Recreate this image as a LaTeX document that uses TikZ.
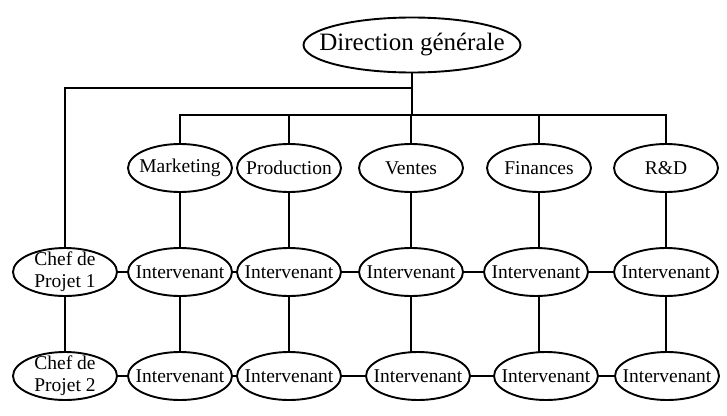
\documentclass[tikz,border=0pt]{standalone}
\usepackage{fontspec}
\setmainfont{Liberation Serif}
\usetikzlibrary{shapes.geometric}
\pgfdeclarelayer{bg}
\pgfsetlayers{bg,main}
\tikzset{
  box/.style={ellipse, draw, line width=1.9pt, fill=white, inner sep=-10pt,
    minimum width=104pt, minimum height=48pt, align=center,
    font=\fontsize{19.5}{22}\selectfont},
  link/.style={line width=1.9pt}
}
\begin{document}
\begin{tikzpicture}[x=1pt,y=-1pt]
\useasboundingbox (0,0) rectangle (727,415);
\node [box, inner sep=-20pt, minimum width=217pt, minimum height=55pt, font=\fontsize{25}{28}\selectfont] (dg) at (412,45) {Direction générale};

\node [box] (mkt) at (180,168) {Marketing};
\node [box] (prod) at (289,168) {Production};
\node [box] (vnt) at (411,168) {Ventes};
\node [box] (fin) at (539,168) {Finances};
\node [box] (rd) at (666,168) {R\&D};

\node [box] (chef1) at (65,272) {Chef de\\Projet 1};
\node [box] (chef2) at (65,376) {Chef de\\Projet 2};
\foreach \n/\x in {1/180,2/289,3/411,4/536,5/666}
  \node [box] (i1\n) at (\x,272) {Intervenant};
\foreach \n/\x in {1/180,2/289,3/418,4/546,5/667}
  \node [box] (i2\n) at (\x,376) {Intervenant};

\coordinate (split) at (412,88);
\coordinate (bus) at (412,115);

\begin{pgfonlayer}{bg}
\draw [link] (dg) -- (bus);
\draw [link] (split) -| (chef1) -- (chef2);
\draw [link] (mkt) |- (bus) -| (rd);
\foreach \d in {mkt,prod,vnt,fin,rd}
  \draw [link] (\d |- bus) -- (\d |- i21);
\draw [link] (chef1) -- (i11) -- (i12) -- (i13) -- (i14) -- (i15);
\draw [link] (chef2) -- (i21) -- (i22) -- (i23) -- (i24) -- (i25);
\end{pgfonlayer}
\end{tikzpicture}
\end{document}
